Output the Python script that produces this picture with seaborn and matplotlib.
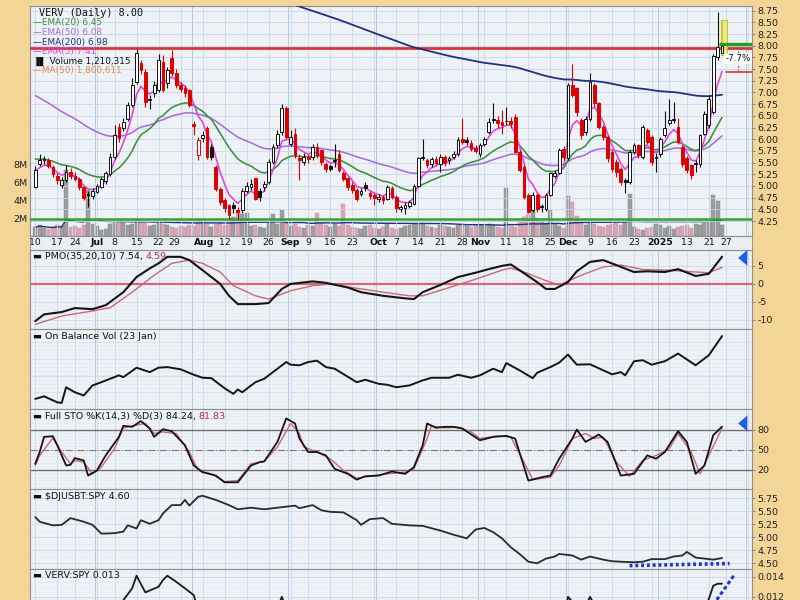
import numpy as np
import pandas as pd
import matplotlib
matplotlib.use("Agg")
import matplotlib.pyplot as plt
import seaborn as sns
from matplotlib.patches import Rectangle
from matplotlib.ticker import MultipleLocator

# ---------------- data (daily, 2024-06-10 .. 2025-01-24) ----------------
OPEN = [
    4.98, 5.48, 5.57, 5.55, 5.40, 5.22, 5.02, 5.12, 5.30, 5.22,
    5.15, 4.98, 4.82, 4.78, 4.88, 4.98, 5.10, 5.25, 5.62, 6.27,
    6.25, 6.44, 6.73, 7.23, 7.62, 7.44, 6.84, 6.98, 7.05, 7.66,
    7.20, 7.73, 7.41, 7.15, 7.10, 7.05, 6.33, 5.66, 6.02, 6.23,
    5.84, 5.40, 4.94, 4.69, 4.59, 4.60, 4.48, 4.48, 4.90, 4.98,
    5.16, 4.90, 4.98, 5.09, 5.52, 5.87, 6.16, 6.66, 5.90, 6.12,
    5.60, 5.52, 5.62, 5.62, 5.84, 5.77, 5.48, 5.42, 5.55, 5.69,
    5.27, 5.16, 5.02, 4.91, 4.83, 5.03, 4.85, 4.80, 4.73, 4.76,
    4.73, 4.96, 4.77, 4.50, 4.52, 4.58, 4.62, 5.00, 5.62, 5.55,
    5.47, 5.58, 5.47, 5.62, 5.55, 5.62, 5.69, 6.00, 5.98, 5.92,
    5.82, 5.68, 5.90, 6.16, 6.43, 6.41, 6.36, 6.38, 6.40, 6.48,
    5.73, 5.41, 4.80, 4.48, 4.80, 4.56, 4.50, 4.80, 5.22, 5.27,
    5.80, 5.59, 7.16, 7.09, 6.41, 6.16, 6.44, 7.16, 6.77, 6.27,
    6.05, 5.73, 5.52, 5.37, 5.13, 5.09, 5.73, 5.87, 5.62, 6.19,
    6.05, 5.60, 5.69, 6.09, 6.34, 6.44, 6.27, 5.84, 5.60, 5.44,
    5.50, 5.48, 6.12, 6.30, 6.59, 7.75, 7.85]
CLOSE = [
    5.35, 5.55, 5.55, 5.42, 5.25, 5.12, 5.12, 5.30, 5.22, 5.15,
    4.98, 4.75, 4.80, 4.90, 5.00, 5.15, 5.28, 5.62, 6.08, 6.02,
    6.37, 6.73, 7.16, 7.84, 7.48, 6.80, 6.87, 7.16, 7.70, 7.05,
    7.48, 7.41, 7.15, 7.08, 6.98, 6.73, 6.28, 5.98, 6.09, 5.62,
    5.62, 4.94, 4.66, 4.52, 4.37, 4.52, 4.45, 4.90, 5.00, 5.05,
    4.73, 4.77, 5.05, 5.52, 5.84, 6.12, 6.66, 6.05, 6.05, 5.66,
    5.56, 5.62, 5.58, 5.84, 5.66, 5.52, 5.37, 5.37, 5.53, 5.34,
    5.16, 4.98, 4.91, 4.73, 4.90, 4.96, 4.78, 4.74, 4.76, 4.70,
    4.98, 4.77, 4.52, 4.55, 4.60, 4.65, 5.00, 5.59, 5.60, 5.44,
    5.58, 5.50, 5.62, 5.50, 5.60, 5.69, 5.98, 5.95, 5.95, 5.80,
    5.75, 5.88, 6.00, 6.37, 6.41, 6.34, 6.30, 6.40, 6.32, 5.73,
    5.34, 4.77, 4.45, 4.80, 4.50, 4.55, 4.80, 5.27, 5.27, 5.77,
    5.62, 7.16, 6.94, 6.59, 6.09, 6.44, 7.23, 6.77, 6.27, 6.05,
    5.59, 5.37, 5.30, 5.09, 5.09, 5.73, 5.87, 5.66, 6.27, 5.94,
    5.52, 5.62, 6.00, 6.23, 6.41, 6.42, 5.94, 5.48, 5.35, 5.23,
    5.48, 6.09, 6.55, 6.87, 7.77, 7.97, 8.00]
HIGH = [
    5.42, 5.68, 5.65, 5.60, 5.45, 5.28, 5.20, 5.45, 5.38, 5.30,
    5.20, 5.00, 4.90, 4.95, 5.05, 5.20, 5.32, 5.70, 6.30, 6.35,
    6.45, 6.80, 7.30, 7.92, 7.70, 7.50, 6.95, 7.25, 7.82, 7.80,
    7.55, 7.90, 7.50, 7.22, 7.15, 7.08, 6.40, 6.05, 6.18, 6.28,
    5.90, 5.45, 4.98, 4.75, 4.62, 4.65, 4.55, 4.95, 5.08, 5.15,
    5.18, 4.95, 5.10, 5.58, 5.90, 6.20, 6.75, 6.72, 6.20, 6.25,
    5.68, 5.70, 5.68, 5.90, 5.92, 5.80, 5.52, 5.48, 5.90, 5.78,
    5.32, 5.20, 5.08, 4.95, 4.95, 5.08, 4.90, 4.85, 4.82, 4.80,
    5.02, 5.00, 4.80, 4.60, 4.65, 4.70, 5.05, 5.62, 6.00, 5.60,
    5.62, 5.65, 5.68, 5.66, 5.65, 5.74, 6.05, 6.45, 6.05, 5.98,
    5.88, 5.92, 6.05, 6.45, 6.78, 6.50, 6.62, 6.70, 6.48, 6.55,
    5.78, 5.45, 4.85, 4.88, 4.85, 4.62, 4.85, 5.30, 5.35, 5.82,
    5.85, 7.20, 7.62, 7.12, 6.45, 6.50, 7.41, 7.20, 6.80, 6.30,
    6.08, 5.78, 5.58, 5.40, 5.18, 5.78, 5.92, 5.90, 6.30, 6.25,
    6.10, 5.70, 6.05, 6.60, 6.85, 6.80, 6.45, 5.88, 5.65, 5.48,
    5.55, 6.12, 6.60, 6.95, 7.82, 8.72, 8.55]
LOW = [
    4.95, 5.42, 5.48, 5.38, 5.20, 5.05, 4.95, 5.08, 5.15, 5.10,
    4.92, 4.70, 4.55, 4.72, 4.85, 4.95, 5.05, 5.22, 5.58, 5.95,
    6.18, 6.40, 6.70, 7.18, 7.40, 6.70, 6.65, 6.90, 7.00, 7.00,
    7.10, 7.35, 7.10, 7.00, 6.90, 6.68, 6.10, 5.55, 5.95, 5.58,
    5.55, 4.90, 4.60, 4.45, 4.30, 4.42, 4.30, 4.42, 4.85, 4.92,
    4.70, 4.68, 4.90, 5.05, 5.48, 5.82, 6.10, 6.00, 5.85, 5.60,
    5.12, 5.45, 5.50, 5.55, 5.60, 5.45, 5.30, 5.32, 5.40, 5.30,
    5.10, 4.92, 4.85, 4.68, 4.78, 4.90, 4.72, 4.60, 4.65, 4.62,
    4.70, 4.72, 4.45, 4.45, 4.40, 4.52, 4.60, 4.98, 5.55, 5.38,
    5.40, 5.45, 5.30, 5.42, 5.48, 5.58, 5.65, 5.90, 5.88, 5.75,
    5.70, 5.62, 5.85, 6.12, 6.35, 6.25, 6.12, 6.30, 6.25, 5.70,
    5.30, 4.72, 4.42, 4.45, 4.45, 4.45, 4.46, 4.78, 5.18, 5.25,
    5.55, 5.55, 6.90, 6.50, 6.00, 6.10, 6.40, 6.70, 6.22, 5.98,
    5.52, 5.30, 5.20, 5.02, 4.84, 5.05, 5.68, 5.60, 5.58, 5.90,
    5.45, 5.30, 5.62, 6.05, 6.30, 6.35, 5.90, 5.40, 5.28, 5.15,
    5.30, 5.40, 6.08, 6.25, 6.55, 7.70, 7.80]
VOLUME_M = [
    1.0, 1.2, 0.9, 0.8, 0.9, 1.2, 1.1, 7.3, 1.0, 1.1,
    0.9, 1.2, 5.1, 1.3, 1.1, 0.7, 0.8, 1.3, 1.5, 1.7,
    1.6, 1.2, 1.3, 1.9, 1.6, 1.4, 1.1, 1.2, 1.5, 1.3,
    1.2, 1.0, 0.9, 1.1, 1.0, 1.2, 1.1, 1.8, 1.6, 1.3,
    1.0, 1.3, 1.5, 1.2, 1.7, 2.1, 2.9, 2.4, 2.6, 1.1,
    1.2, 1.0, 0.9, 1.4, 2.5, 1.3, 2.9, 1.5, 1.1, 1.3,
    1.0, 0.9, 1.2, 1.1, 2.6, 1.4, 1.2, 1.0, 1.3, 1.1,
    3.6, 1.2, 1.0, 0.9, 0.8, 1.1, 1.2, 0.9, 0.8, 1.0,
    1.3, 0.9, 0.8, 0.9, 1.1, 1.2, 1.3, 1.4, 1.5, 1.1,
    1.0, 0.9, 1.2, 1.1, 1.0, 0.9, 1.2, 1.3, 1.1, 1.0,
    1.2, 1.2, 1.1, 1.3, 1.2, 1.0, 0.9, 5.3, 1.1, 1.0,
    1.7, 2.1, 2.4, 2.9, 2.0, 1.7, 1.5, 2.9, 1.3, 1.1,
    0.9, 4.4, 3.8, 2.2, 1.7, 1.2, 1.5, 1.3, 1.1, 1.0,
    1.2, 1.3, 1.5, 1.2, 1.6, 4.7, 1.0, 0.8, 0.7, 0.9,
    1.0, 1.3, 1.2, 0.9, 1.1, 0.8, 1.0, 1.1, 1.2, 0.9,
    1.3, 1.2, 1.4, 1.5, 4.6, 3.9, 1.21]

EMA_SEEDS = {5: 5.3, 20: 5.6, 50: 7.0, 200: 11.4}

# indicator readings: trading-day number -> value
PMO_DAY = [0, 2, 6, 9, 13, 16, 20, 23, 26, 28, 30, 33, 35, 38, 42, 44, 46, 50, 53, 56,
           58, 63, 66, 71, 74, 79, 84, 86, 88, 92, 96, 100, 103, 106, 108, 110, 114, 116,
           118, 121, 123, 126, 129, 132, 136, 139, 143, 146, 150, 153, 156]
PMO_VAL = [-10.3, -8.45, -7.8, -6.7, -7.0, -5.9, -2.3, 1.9, 4.3, 5.7, 7.5, 7.5, 6.6, 3.8,
           0.0, -3.3, -5.6, -5.6, -5.3, -1.4, 0.0, 0.7, 0.3, -1.0, -2.3, -3.3, -4.0, -4.2,
           -2.3, -0.3, 1.9, 3.1, 4.1, 5.0, 5.4, 3.8, 0.5, -1.4, -1.4, 0.5, 3.5, 6.1, 6.6,
           5.2, 3.3, 3.5, 3.3, 4.1, 2.2, 2.8, 7.54]
SIG_DAY = [0, 6, 13, 17, 22, 27, 31, 35, 38, 42, 45, 50, 53, 58, 63, 67, 73, 79, 85, 88,
           93, 99, 106, 108, 111, 116, 119, 124, 129, 133, 138, 144, 150, 153, 156]
SIG_VAL = [-11.2, -8.9, -7.5, -6.6, -2.3, 2.4, 5.7, 6.6, 5.7, 3.3, -0.5, -3.3, -4.2, -1.9,
           -0.5, 0.0, -1.2, -2.3, -3.3, -3.3, -1.4, 0.9, 3.8, 4.4, 3.3, 0.9, -0.3, 2.4,
           4.7, 5.2, 4.0, 3.8, 3.3, 3.1, 4.59]

OBV_DAY = [0, 2, 5, 6, 7, 9, 11, 13, 15, 17, 19, 20, 23, 26, 28, 30, 33, 36, 38, 40, 43,
           45, 46, 47, 50, 52, 57, 58, 60, 62, 64, 66, 68, 73, 75, 78, 80, 82, 85, 88, 90,
           94, 96, 99, 101, 104, 106, 107, 110, 113, 114, 117, 119, 121, 123, 126, 131,
           133, 134, 136, 138, 140, 143, 146, 150, 153, 156]
OBV_VAL = [5.0, 6.3, 3.3, 3.0, 10.8, 8.3, 6.7, 11.7, 13.3, 15.0, 16.7, 15.8, 20.5, 18.3,
           20.5, 20.8, 19.7, 17.0, 15.5, 15.3, 10.3, 7.5, 9.7, 8.3, 13.3, 15.0, 23.3, 22.0,
           21.7, 23.3, 24.0, 20.8, 20.0, 13.3, 14.5, 12.5, 12.0, 10.8, 11.7, 14.2, 15.5,
           15.5, 17.0, 15.5, 16.7, 20.0, 18.3, 22.8, 19.2, 15.3, 18.0, 20.8, 23.0, 27.0,
           22.0, 22.2, 17.2, 18.3, 16.7, 23.7, 24.2, 22.0, 23.7, 27.5, 21.7, 26.7, 36.2]

STOK_DAY = [0, 1, 2, 4, 5, 7, 8, 9, 11, 12, 14, 16, 19, 20, 22, 24, 26, 27, 29, 31, 34, 36,
            38, 41, 43, 46, 49, 51, 52, 55, 57, 59, 60, 62, 64, 66, 68, 71, 73, 75, 78, 81,
            84, 86, 88, 89, 91, 93, 95, 97, 101, 104, 107, 109, 112, 115, 117, 119, 122,
            123, 125, 128, 130, 133, 136, 139, 141, 143, 146, 148, 150, 152, 154, 156]
STOK_VAL = [29, 46.5, 69, 70, 56.5, 26.5, 27.5, 37.5, 34, 11.5, 19, 41.5, 69, 85.5, 84,
            92.5, 81.5, 69, 80.5, 77.5, 56.5, 26.5, 16.5, 11.5, 1.5, 1.5, 26.5, 31.5, 32.5,
            61.5, 96.5, 89, 66.5, 46.5, 46.5, 41.5, 21.5, 14, 5.5, 10.5, 11.5, 17.5, 14, 24,
            56.5, 89, 82.5, 84, 84, 81.5, 64, 69, 70.5, 66.5, 4, 9, 11.5, 36.5, 66.5, 80,
            61.5, 72.5, 61.5, 11.5, 14, 41.5, 36.5, 46.5, 77.5, 61.5, 14, 26.5, 71.5, 84.24]
STOD_DAY = [0, 1, 4, 6, 8, 9, 11, 13, 15, 18, 20, 23, 25, 27, 29, 32, 35, 37, 40, 43, 46,
            49, 52, 55, 58, 60, 61, 64, 67, 70, 73, 77, 80, 84, 86, 89, 90, 93, 96, 99,
            101, 105, 108, 111, 113, 117, 119, 122, 125, 127, 129, 132, 135, 138, 141,
            144, 146, 149, 151, 153, 156]
STOD_VAL = [26.5, 41.5, 67.5, 46.5, 29, 34, 31.5, 14, 24, 51.5, 82.5, 86.5, 89, 74, 76.5,
            74, 46.5, 19, 14, 2.5, 4, 29, 32.5, 54, 89, 74, 54, 46.5, 36.5, 19, 7.5, 11.5,
            14, 16.5, 21.5, 66.5, 85.5, 82.5, 83.5, 76.5, 66.5, 70.5, 69, 31.5, 5.5, 9,
            26.5, 66.5, 74, 66.5, 69, 31.5, 10.5, 34, 41.5, 51.5, 74, 46.5, 14, 41.5, 81.83]

RS_DAY = [0, 1, 4, 6, 8, 11, 13, 15, 18, 20, 21, 23, 24, 26, 28, 29, 31, 33, 34, 35, 37, 38,
          41, 44, 46, 49, 52, 55, 57, 59, 60, 63, 65, 67, 70, 73, 74, 76, 79, 81, 85, 88,
          92, 95, 98, 100, 102, 104, 106, 108, 110, 112, 114, 116, 118, 119, 122, 124,
          126, 129, 131, 133, 136, 138, 140, 143, 145, 147, 148, 150, 152, 154, 156]
RS_VAL = [5.39, 5.30, 5.23, 5.24, 5.37, 5.30, 5.24, 5.07, 5.08, 5.11, 5.23, 5.17, 5.33,
          5.26, 5.33, 5.46, 5.62, 5.62, 5.72, 5.61, 5.78, 5.80, 5.72, 5.62, 5.54, 5.57,
          5.54, 5.57, 5.59, 5.61, 5.56, 5.62, 5.52, 5.49, 5.48, 5.33, 5.24, 5.35, 5.37,
          5.26, 5.23, 5.22, 5.13, 5.05, 4.98, 5.15, 5.18, 5.10, 4.98, 4.81, 4.68, 4.53,
          4.50, 4.59, 4.63, 4.68, 4.65, 4.57, 4.63, 4.57, 4.54, 4.53, 4.52, 4.53, 4.58,
          4.58, 4.63, 4.65, 4.72, 4.61, 4.59, 4.57, 4.60]

VS_DAY = [0, 5, 10, 12, 14, 17, 19, 20, 22, 23, 25, 28, 29, 30, 32, 34, 36, 37, 39, 42, 44,
          47, 50, 53, 55, 56, 57, 60, 65, 70, 73, 80, 86, 88, 96, 100, 104, 108, 109, 112,
          116, 119, 120, 121, 122, 124, 126, 128, 131, 134, 138, 140, 144, 146, 149, 151,
          152, 153, 154, 155, 156]
VS_VAL = [0.0098, 0.0094, 0.0091, 0.0088, 0.0091, 0.0101, 0.0111, 0.01167, 0.01284,
          0.0141, 0.01244, 0.0130, 0.01367, 0.0141, 0.0135, 0.01284, 0.01217, 0.0106,
          0.0105, 0.0087, 0.0080, 0.0087, 0.0086, 0.0099, 0.0109, 0.0120, 0.0108, 0.0100,
          0.0098, 0.0096, 0.0085, 0.0083, 0.0086, 0.0097, 0.0103, 0.0101, 0.0107, 0.0106,
          0.0096, 0.0076, 0.0080, 0.0096, 0.0094, 0.0120, 0.0115, 0.0100, 0.0120, 0.0104,
          0.0090, 0.0086, 0.0105, 0.0094, 0.0107, 0.0100, 0.0089, 0.0101, 0.0108, 0.0118,
          0.0131, 0.0133, 0.0133]

TICK_DATES = ["2024-06-10", "2024-06-17", "2024-06-24", "2024-07-01", "2024-07-08",
              "2024-07-15", "2024-07-22", "2024-07-29", "2024-08-01", "2024-08-12",
              "2024-08-19", "2024-08-26", "2024-09-03", "2024-09-09", "2024-09-16",
              "2024-09-23", "2024-10-01", "2024-10-07", "2024-10-14", "2024-10-21",
              "2024-10-28", "2024-11-01", "2024-11-11", "2024-11-18", "2024-11-25",
              "2024-12-02", "2024-12-09", "2024-12-16", "2024-12-23", "2025-01-02",
              "2025-01-13", "2025-01-21", "2025-01-27"]
TICK_LABELS = ["10", "17", "24", "Jul", "8", "15", "22", "29", "Aug", "12", "19", "26",
               "Sep", "9", "16", "23", "Oct", "7", "14", "21", "28", "Nov", "11", "18",
               "25", "Dec", "9", "16", "23", "2025", "13", "21", "27"]
MONTH_LABELS = {"Jul", "Aug", "Sep", "Oct", "Nov", "Dec", "2025"}

HOLIDAYS = ["2024-06-19", "2024-07-04", "2024-09-02", "2024-11-28", "2024-12-25",
            "2025-01-01", "2025-01-09", "2025-01-20"]

# annotation levels drawn on the price panel
RESIST = 7.96
SUPPORT = 4.30
STOP_TOP = 8.03
STOP_LOW = 7.44

for name, arr in [("OPEN", OPEN), ("HIGH", HIGH), ("LOW", LOW), ("VOL", VOLUME_M)]:
    assert len(arr) == len(CLOSE), (name, len(arr), len(CLOSE))

# ---------------- setup ----------------
sns.set_theme(style="white")
plt.rcParams['font.family'] = ['DejaVu Sans']

TAN = "#F2D597"
PANEL = "#EEF2F6"
GRID = "#C6D8EA"
GRID_MINOR = "#DEE7F0"
MONTH_GRID = "#B0C8DF"
BORDER = "#8E8E8E"
TXT = "#111111"
MAROON = "#B0304E"
SIGPINK = "#C8687C"
BLUE_ARROW = "#1D5FE6"

fig = plt.figure(figsize=(8, 6), dpi=100, facecolor=TAN)


def px_axes(l, t, r, b):
    return fig.add_axes([l / 800, 1 - b / 600, (r - l) / 800, (b - t) / 600])


cal = pd.bdate_range("2024-06-10", "2025-02-14")
cal = cal[~cal.isin(pd.to_datetime(HOLIDAYS))]
pos = {d.strftime("%Y-%m-%d"): k for k, d in enumerate(cal)}
N = len(CLOSE)
assert pos["2025-01-24"] == N - 1
idx = np.arange(N)
XLIM = (-1.2, 162.8)

wk = cal.to_period("W")
week_pos = [k for k in range(len(cal)) if (k == 0 or wk[k] != wk[k - 1]) and k < XLIM[1]]
month_pos = [k for k in range(1, len(cal)) if cal[k].month != cal[k - 1].month and k < XLIM[1]]
tick_pos = [pos[d] for d in TICK_DATES]


def style(ax, ylim, yticks=None, fmt="{:.2f}", minor=None, labels=True, face=PANEL):
    ax.set_facecolor(face)
    ax.set_xlim(*XLIM)
    ax.set_ylim(*ylim)
    ax.set_xticks(week_pos)
    ax.set_xticklabels([])
    ax.tick_params(axis="x", length=0)
    if yticks is not None:
        ax.set_yticks(yticks)
        ax.set_yticklabels([fmt.format(v) for v in yticks] if labels else [])
    ax.yaxis.tick_right()
    ax.tick_params(axis="y", which="major", length=2.5, width=0.6, pad=1.5,
                   labelsize=6.8, color="#777777", labelcolor="#222222")
    ax.grid(True, which="major", color=GRID, lw=0.6)
    if minor:
        ax.yaxis.set_minor_locator(MultipleLocator(minor))
        ax.tick_params(axis="y", which="minor", length=0)
        ax.grid(True, which="minor", axis="y", color=GRID_MINOR, lw=0.4)
    for m in month_pos:
        ax.axvline(m - 0.5, color=MONTH_GRID, lw=0.7, zorder=0.5)
    ax.set_axisbelow(True)
    for s in ax.spines.values():
        s.set_color(BORDER)
        s.set_linewidth(0.8)


def panel_label(ax, text, ypx_from_top, height_px, color=TXT, extra=None, extra_color=MAROON):
    y = 1 - ypx_from_top / height_px
    t = ax.text(0.004, y, "\u25AC " + text, transform=ax.transAxes, fontsize=6.8,
                color=color, va="center", ha="left", zorder=10)
    if extra:
        ax.annotate(extra, xy=(1, 0.5), xycoords=t, va="center", ha="left",
                    fontsize=6.8, color=extra_color, zorder=10)
    return t


def blue_arrow(ax, yfrac):
    ax.annotate("", xy=(0.977, yfrac), xytext=(0.997, yfrac), xycoords="axes fraction",
                annotation_clip=False,
                arrowprops=dict(arrowstyle="simple,head_length=0.55,head_width=0.95,tail_width=0.5",
                                color=BLUE_ARROW, lw=0))


# ---------------- price + volume panel ----------------
ax_v = px_axes(30, 6, 752, 236)
ax_p = px_axes(30, 6, 752, 236)
ax_v.set_zorder(1)
ax_p.set_zorder(2)

ax_v.set_facecolor(PANEL)
ax_v.set_xlim(*XLIM)
ax_v.set_ylim(0, 25.56)
ax_v.set_xticks([])
ax_v.set_yticks([2, 4, 6, 8])
ax_v.set_yticklabels(["2M", "4M", "6M", "8M"])
ax_v.yaxis.tick_left()
ax_v.tick_params(axis="y", length=0, pad=2, labelsize=6.8, labelcolor="#222222")
for s in ax_v.spines.values():
    s.set_visible(False)

close = np.array(CLOSE)
openp = np.array(OPEN)
prev = np.r_[close[0], close[:-1]]
up_day = close >= prev
vol_colors = np.where(up_day, "#9E9E9E", "#D9A6B7")
ax_v.bar(idx, VOLUME_M, width=0.9, color=vol_colors,
         edgecolor=np.where(up_day, "#858585", "#C594A6"), lw=0.3, zorder=2)
vol_ma = pd.Series(VOLUME_M).rolling(50, min_periods=1).mean()
sns.lineplot(x=idx, y=vol_ma.values, ax=ax_v, color="#25307F", lw=1.0, legend=False,
             estimator=None, sort=False, zorder=3)
ax_v.set_xlabel("")
ax_v.set_ylabel("")

style(ax_p, (3.93, 8.85), yticks=np.round(np.arange(4.25, 8.80, 0.25), 2))
ax_p.patch.set_visible(False)

# EMAs
ema_colors = {20: "#3F8E3F", 50: "#A66EDC", 200: "#25307F", 5: "#E043DD"}
for n in [200, 50, 20, 5]:
    s = pd.concat([pd.Series([EMA_SEEDS[n]]), pd.Series(CLOSE)], ignore_index=True)
    ema = s.ewm(span=n, adjust=False).mean().iloc[1:].values
    sns.lineplot(x=idx, y=ema, ax=ax_p, color=ema_colors[n], lw=1.15 if n != 200 else 1.3,
                 legend=False, estimator=None, sort=False, zorder=3)
ax_p.set_xlabel("")
ax_p.set_ylabel("")

ax_p.axhline(RESIST, color="#D23838", lw=2.0, zorder=2.8)
ax_p.axhline(SUPPORT, color="#2EA52E", lw=1.8, zorder=2.8)

# candles
edge = np.where(up_day, "#111111", "#E00000")
face = np.where(close >= openp, "white", edge)
ax_p.vlines(idx, LOW, HIGH, colors=edge, lw=0.8, zorder=4)
body_lo = np.minimum(openp, close)
body_h = np.maximum(np.abs(close - openp), 0.015)
ax_p.bar(idx, body_h, bottom=body_lo, width=0.62, color=face, edgecolor=edge, lw=0.7, zorder=5)

# right-edge annotations
ax_p.add_patch(Rectangle((155.75, 7.80), 1.3, 0.76, facecolor="#F0EE5A", edgecolor="#BDBB2A",
                         lw=0.8, alpha=0.85, zorder=4.5))
ax_p.plot([155.3, XLIM[1]], [STOP_TOP, STOP_TOP], color="#23A023", lw=2.4, zorder=6,
          solid_capstyle="butt")
ax_p.plot([156.8, XLIM[1]], [STOP_LOW, STOP_LOW], color="#C62828", lw=1.1, zorder=6)
ax_p.plot([159.6, 159.6], [7.84, 7.99], ls=(0, (1.5, 1.5)), color="#D04040", lw=0.9, zorder=6)
ax_p.plot([159.6, 159.6], [7.47, 7.62], ls=(0, (1.5, 1.5)), color="#D04040", lw=0.9, zorder=6)
ax_p.text(159.6, 7.73, "-7.7%", fontsize=6.3, color=TXT, ha="center", va="center", zorder=7,
          bbox=dict(boxstyle="square,pad=0.12", fc="white", ec="none"))

# legend text
LEGEND = [("VERV (Daily) 8.00", TXT), ("\u2014EMA(20) 6.45", "#3F8E3F"),
          ("\u2014EMA(50) 6.08", "#A66EDC"), ("\u2014EMA(200) 6.98", "#25307F"),
          ("\u2014EMA(5) 7.41", "#E043DD"), ("\u2590\u258C Volume 1,210,315", TXT),
          ("\u2014MA(50) 1,800,611", "#E8894C")]
ypx = [13, 23, 32.5, 42, 51.5, 61, 70]
for (txt, col), yy in zip(LEGEND, ypx):
    if txt.startswith("VERV"):
        ax_p.text(0.013, 1 - (yy - 6) / 230, txt, transform=ax_p.transAxes, fontsize=7.3,
                  family="DejaVu Sans Mono", color=col, va="center", ha="left", zorder=10)
    else:
        ax_p.text(0.004, 1 - (yy - 6) / 230, txt, transform=ax_p.transAxes, fontsize=6.4,
                  color=col, va="center", ha="left", zorder=10)

# ---------------- date strip ----------------
ax_d = px_axes(30, 236, 752, 250)
ax_d.set_facecolor("#E9EEF3")
ax_d.set_xlim(*XLIM)
ax_d.set_ylim(0, 1)
ax_d.set_yticks([])
ax_d.set_xticks(tick_pos)
ax_d.set_xticklabels(TICK_LABELS)
ax_d.tick_params(axis="x", length=0, pad=-8.4, labelsize=6.7, labelcolor="#111111")
for lab in ax_d.get_xticklabels():
    if lab.get_text() in MONTH_LABELS:
        lab.set_fontweight("bold")
    if lab.get_text() == "29":
        lab.set_horizontalalignment("right")
    if lab.get_text() == "Aug":
        lab.set_horizontalalignment("left")
for s in ax_d.spines.values():
    s.set_color(BORDER)
    s.set_linewidth(0.6)

# ---------------- PMO ----------------
ax_pmo = px_axes(30, 250, 752, 329)
style(ax_pmo, (-12.5, 9.4), yticks=[-10, -5, 0, 5], fmt="{:.0f}", minor=1)
ax_pmo.axhline(0, color="#D0697E", lw=1.6, zorder=2)
sns.lineplot(x=SIG_DAY, y=SIG_VAL, ax=ax_pmo, color=SIGPINK, lw=1.0, legend=False,
             estimator=None, sort=False, zorder=3)
sns.lineplot(x=PMO_DAY, y=PMO_VAL, ax=ax_pmo, color="#151515", lw=1.5, legend=False,
             estimator=None, sort=False, zorder=4)
ax_pmo.set_xlabel("")
ax_pmo.set_ylabel("")
panel_label(ax_pmo, "PMO(35,20,10) 7.54, ", 6.5, 79, extra="4.59")
blue_arrow(ax_pmo, 0.90)

# ---------------- OBV ----------------
ax_obv = px_axes(30, 329, 752, 409)
style(ax_obv, (0, 39.7), yticks=[8.3, 16.6, 24.9, 33.2], labels=False, minor=2.08)
ax_obv.tick_params(axis="y", which="major", length=0)
sns.lineplot(x=OBV_DAY, y=OBV_VAL, ax=ax_obv, color="#151515", lw=1.4, legend=False,
             estimator=None, sort=False, zorder=4)
ax_obv.set_xlabel("")
ax_obv.set_ylabel("")
panel_label(ax_obv, "On Balance Vol (23 Jan)", 7.5, 80)

# ---------------- Full STO ----------------
ax_sto = px_axes(30, 409, 752, 489)
style(ax_sto, (-8.5, 110.5), yticks=[20, 50, 80], fmt="{:.0f}", minor=5)
ax_sto.axhline(80, color="#6E6E6E", lw=1.0, zorder=2)
ax_sto.axhline(20, color="#6E6E6E", lw=1.0, zorder=2)
ax_sto.axhline(50, color="#7A7A7A", lw=0.8, ls="-.", zorder=2)
sns.lineplot(x=STOD_DAY, y=STOD_VAL, ax=ax_sto, color=SIGPINK, lw=1.0, legend=False,
             estimator=None, sort=False, zorder=3)
sns.lineplot(x=STOK_DAY, y=STOK_VAL, ax=ax_sto, color="#151515", lw=1.3, legend=False,
             estimator=None, sort=False, zorder=4)
ax_sto.set_xlabel("")
ax_sto.set_ylabel("")
panel_label(ax_sto, "Full STO %K(14,3) %D(3) 84.24, ", 7.5, 80, extra="81.83")
blue_arrow(ax_sto, 0.82)

# ---------------- $DJUSBT:SPY ----------------
ax_rs = px_axes(30, 489, 752, 569)
style(ax_rs, (4.39, 5.93), yticks=[4.50, 4.75, 5.00, 5.25, 5.50, 5.75], minor=0.125)
sns.lineplot(x=RS_DAY, y=RS_VAL, ax=ax_rs, color="#2A2A2A", lw=1.3, legend=False,
             estimator=None, sort=False, zorder=4)
ax_rs.plot([135, 157.7], [4.455, 4.495], color="#2233C8", lw=2.6, ls=(0, (0.8, 0.8)), zorder=5)
ax_rs.set_xlabel("")
ax_rs.set_ylabel("")
panel_label(ax_rs, "$DJUSBT:SPY 4.60", 7.5, 80)

# ---------------- VERV:SPY (panel runs past the bottom edge, as in the source) ----------------
ax_vs = px_axes(30, 569, 752, 648)
style(ax_vs, (0.0069, 0.01477), yticks=[0.012, 0.014], fmt="{:.3f}", minor=0.0005)
sns.lineplot(x=VS_DAY, y=VS_VAL, ax=ax_vs, color="#1A1A1A", lw=1.3, legend=False,
             estimator=None, sort=False, zorder=4)
ax_vs.plot([154.8, 158.8], [0.0117, 0.0142], color="#2233C8", lw=2.2, ls=(0, (1.2, 0.9)),
           zorder=5)
ax_vs.set_xlabel("")
ax_vs.set_ylabel("")
panel_label(ax_vs, "VERV:SPY 0.013", 6.5, 79)

fig.savefig("out.png", dpi=100, facecolor=TAN)
